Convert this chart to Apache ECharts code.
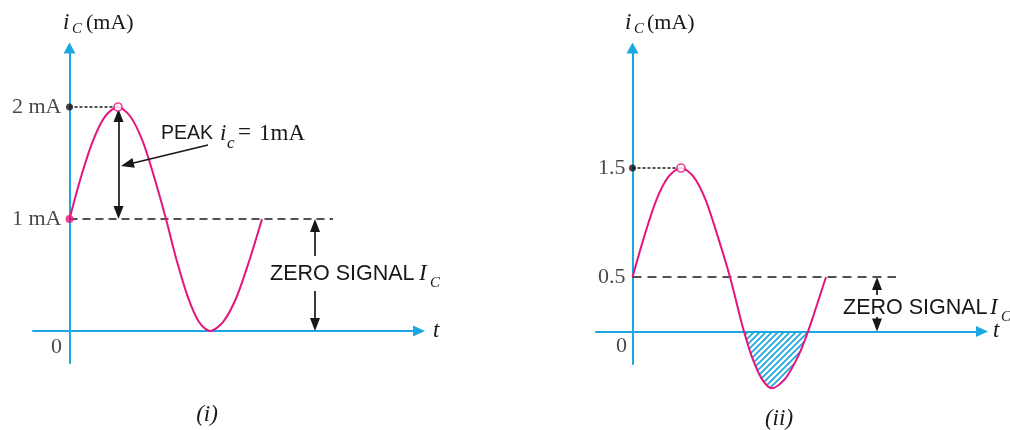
<!DOCTYPE html>
<html>
<head>
<meta charset="utf-8">
<script src="https://cdn.jsdelivr.net/npm/echarts@6/dist/echarts.min.js"></script>
<style>
  html, body { margin: 0; padding: 0; background: #fff; }
  #main { width: 1010px; height: 430px; }
</style>
</head>
<body>
<div id="main"></div>
<script>
// (i) collector current, 1 mA zero-signal level with 1 mA peak signal
const curveA = [
  [0, 1.0], [1.2, 1.39], [2.4, 1.71], [3.6, 1.92], [4.85, 2.0], [6.05, 1.92], [7.25, 1.71], [8.45, 1.38],
  [9.65, 1.0], [10.75, 0.62], [11.85, 0.3], [12.95, 0.08], [14.05, 0], [15.35, 0.08], [16.65, 0.29],
  [17.95, 0.62], [19.25, 1.0]
];
// (ii) same signal on a 0.5 mA zero-signal level, goes below zero
const curveB = [
  [0, 0.5], [1.2, 0.88], [2.4, 1.21], [3.6, 1.42], [4.85, 1.5], [6.1, 1.42], [7.3, 1.21], [8.5, 0.88],
  [9.75, 0.5], [10.8, 0.12], [11.15, 0], [11.85, -0.21], [12.9, -0.43], [13.95, -0.52], [15.3, -0.43],
  [16.65, -0.21], [17.55, 0], [18.0, 0.12], [19.35, 0.5]
];
const cutB = curveB.filter(p => p[1] <= 0);   // negative part, hatched

const peakA = [4.85, 2];
const peakB = [4.85, 1.5];
const zeroSignalA = 1;
const zeroSignalB = 0.5;
const dashEnd = 26.35;

const ticksA = [2, 1];
const tickLabelsA = ['2 mA', '1 mA'];
const ticksB = [1.5, 0.5];
const tickLabelsB = ['1.5', '0.5'];

const cyan = '#1ba7e1';
const pink = '#e5157f';
const ink = '#1a1718';
const SERIF = '"Liberation Serif", serif';
const SANS = '"Liberation Sans", sans-serif';

const gridA = { left: 33, top: 48, width: 386, height: 315 };
const gridB = { left: 596, top: 48, width: 386, height: 316 };
const xRange = { min: -3.65, max: 34.95 };
const yA = { min: -0.286, max: 2.527 };
const yB = { min: -0.298, max: 2.601 };

// half arrow head, in y units for each panel
const headA = 6.5 / (gridA.height / (yA.max - yA.min));
const headB = 6.5 / (gridB.height / (yB.max - yB.min));

const hatch = document.createElement('canvas');
hatch.width = hatch.height = 6;
const g = hatch.getContext('2d');
g.strokeStyle = cyan;
g.lineWidth = 1.7;
g.beginPath();
g.moveTo(0, 6); g.lineTo(6, 0);
g.moveTo(-1, 1); g.lineTo(1, -1);
g.moveTo(5, 7); g.lineTo(7, 5);
g.stroke();

function xAxis(i) {
  return {
    type: 'value', gridIndex: i, min: xRange.min, max: xRange.max,
    axisLine: { onZero: true, symbol: ['none', 'triangle'], symbolSize: [11, 12], lineStyle: { color: cyan, width: 2 } },
    axisTick: { show: false }, axisLabel: { show: false }, splitLine: { show: false }
  };
}
function yAxis(i, r) {
  return {
    type: 'value', gridIndex: i, min: r.min, max: r.max,
    axisLine: { onZero: true, symbol: ['none', 'triangle'], symbolSize: [12, 11], lineStyle: { color: cyan, width: 2 } },
    axisTick: { show: false }, axisLabel: { show: false }, splitLine: { show: false }
  };
}

function curve(i, data) {
  return {
    type: 'line', xAxisIndex: i, yAxisIndex: i, data: data, smooth: 0.3,
    showSymbol: false, symbol: 'none', clip: false, z: 4,
    lineStyle: { color: pink, width: 2 }
  };
}

function refLine(i, data, dash) {
  return {
    type: 'line', xAxisIndex: i, yAxisIndex: i, data: data, symbol: 'none', z: 3,
    lineStyle: { color: ink, width: 1.7, type: dash }
  };
}

function arrows(i, list) {
  return {
    type: 'line', xAxisIndex: i, yAxisIndex: i, data: [], z: 5,
    markLine: {
      silent: true, animation: false,
      symbol: ['triangle', 'triangle'], symbolSize: [10, 13],
      label: { show: false },
      lineStyle: { color: ink, width: 1.7, type: 'solid' },
      data: list
    }
  };
}

function tickLabels(i, ticks, labels, dist) {
  return {
    type: 'scatter', xAxisIndex: i, yAxisIndex: i, symbolSize: 0, z: 6,
    data: ticks.map(v => [0, v]),
    label: {
      show: true, position: 'left', distance: dist,
      formatter: p => labels[p.dataIndex],
      fontFamily: SERIF, fontSize: 22, color: ink
    }
  };
}

function zeroLabel(i, off) {
  return {
    type: 'scatter', xAxisIndex: i, yAxisIndex: i, symbolSize: 0, data: [[0, 0]],
    label: { show: true, position: 'inside', offset: off, formatter: '0', fontFamily: SERIF, fontSize: 22, color: ink }
  };
}

function dots(i, list) {
  return {
    type: 'scatter', xAxisIndex: i, yAxisIndex: i, z: 7, symbol: 'circle',
    data: list
  };
}

function txt(x, y, s, font, align) {
  return {
    type: 'text', x: x, y: y, silent: true,
    style: { text: s, font: font, fill: ink, align: align || 'left', verticalAlign: 'middle' }
  };
}

const chart = echarts.init(document.getElementById('main'));
chart.setOption({
  animation: false,
  backgroundColor: '#fff',
  grid: [gridA, gridB],
  xAxis: [xAxis(0), xAxis(1)],
  yAxis: [yAxis(0, yA), yAxis(1, yB)],
  series: [
    {
      type: 'line', xAxisIndex: 1, yAxisIndex: 1, data: cutB, smooth: 0.3,
      symbol: 'none', clip: false, z: 1,
      lineStyle: { width: 0 },
      areaStyle: { color: { image: hatch, repeat: 'repeat' }, opacity: 1 }
    },
    curve(0, curveA),
    curve(1, curveB),
    refLine(0, [[0, zeroSignalA], [dashEnd, zeroSignalA]], [8, 5]),
    refLine(1, [[0, zeroSignalB], [dashEnd, zeroSignalB]], [9, 6]),
    refLine(0, [[0, peakA[1]], [peakA[0] - 0.35, peakA[1]]], [3, 2]),
    refLine(1, [[0, peakB[1]], [peakB[0] - 0.35, peakB[1]]], [3, 2]),
    arrows(0, [
      [{ coord: [peakA[0] + 0.05, peakA[1] - headA * 1.3] }, { coord: [peakA[0] + 0.05, zeroSignalA + headA] }],
      [{ coord: [13.85, 1.661], symbol: 'none' }, { coord: [5.78, 1.487] }],
      [{ coord: [24.55, 0.67], symbol: 'none' }, { coord: [24.55, zeroSignalA - headA] }],
      [{ coord: [24.55, 0.357], symbol: 'none' }, { coord: [24.55, headA] }]
    ]),
    arrows(1, [
      [{ coord: [24.45, 0.335], symbol: 'none' }, { coord: [24.45, zeroSignalB - headB] }],
      [{ coord: [24.45, 0.133], symbol: 'none' }, { coord: [24.45, headB] }]
    ]),
    dots(0, [
      { value: [0, peakA[1]], symbolSize: 7, itemStyle: { color: ink } },
      { value: [0, zeroSignalA], symbolSize: 8, itemStyle: { color: pink } },
      { value: peakA, symbolSize: 8, itemStyle: { color: '#fff', borderColor: pink, borderWidth: 1.6 } }
    ]),
    dots(1, [
      { value: [0, peakB[1]], symbolSize: 7, itemStyle: { color: ink } },
      { value: peakB, symbolSize: 8, itemStyle: { color: '#fff', borderColor: pink, borderWidth: 1.6 } }
    ]),
    tickLabels(0, ticksA, tickLabelsA, 8),
    tickLabels(1, ticksB, tickLabelsB, 7),
    zeroLabel(0, [-13, 16]),
    zeroLabel(1, [-11, 15])
  ],
  graphic: [
    txt(63, 23, 'i', 'italic 23px ' + SERIF),
    txt(72, 29, 'C', 'italic 15px ' + SERIF),
    txt(86, 23, '(mA)', '22px ' + SERIF),
    txt(625, 23, 'i', 'italic 23px ' + SERIF),
    txt(634, 29, 'C', 'italic 15px ' + SERIF),
    txt(647, 23, '(mA)', '22px ' + SERIF),
    txt(433, 331, 't', 'italic 23px ' + SERIF),
    txt(993, 331, 't', 'italic 23px ' + SERIF),
    txt(161, 134, 'PEAK', '19.5px ' + SANS),
    txt(220, 134, 'i', 'italic 23px ' + SERIF),
    txt(227, 144, 'c', 'italic 17px ' + SERIF),
    txt(238, 133, '=', '23px ' + SERIF),
    txt(259, 134, '1mA', '23px ' + SERIF),
    txt(270, 274, 'ZERO SIGNAL', '21.5px ' + SANS),
    txt(419, 274, 'I', 'italic 23px ' + SERIF),
    txt(430, 283, 'C', 'italic 15px ' + SERIF),
    txt(843, 308, 'ZERO SIGNAL', '21.5px ' + SANS),
    txt(990, 308, 'I', 'italic 23px ' + SERIF),
    txt(1001, 317, 'C', 'italic 15px ' + SERIF),
    txt(207, 415, '(i)', 'italic 23px ' + SERIF, 'center'),
    txt(779, 419, '(ii)', 'italic 23px ' + SERIF, 'center')
  ]
});
</script>
</body>
</html>
